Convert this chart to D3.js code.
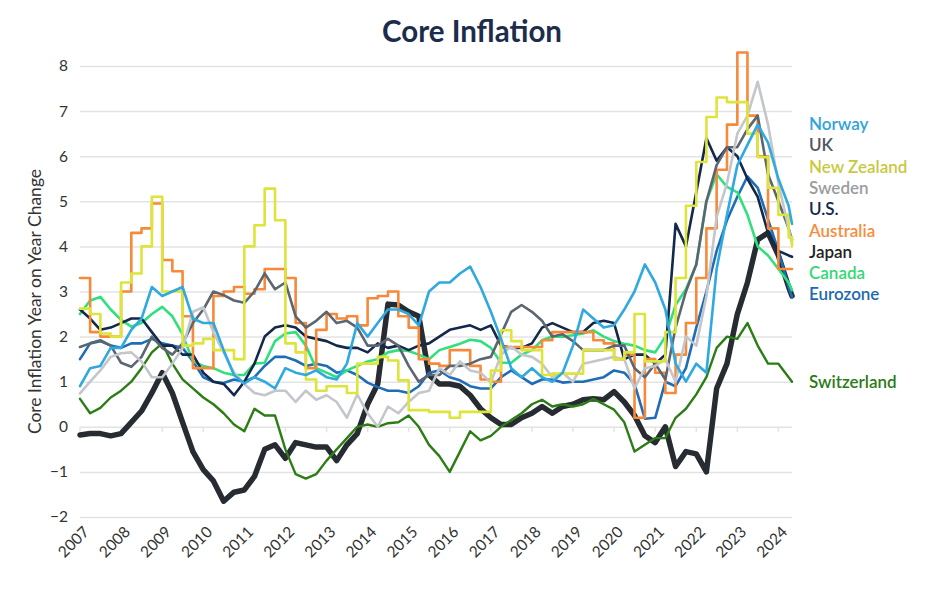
<!DOCTYPE html>
<html>
<head>
<meta charset="utf-8">
<script src="https://cdn.jsdelivr.net/npm/d3@7"></script>
<style>
  body { margin: 0; background: #fff; }
  text { font-family: Lato, "Open Sans", sans-serif; }
</style>
</head>
<body>
<svg id="chart" width="940" height="600"></svg>
<script>
// quarterly readings, Jan 2007 .. Apr 2024, plus last reading (May 2024)
const yearTicks = d3.range(2007, 2025);
const yTicks = [-2, -1, 0, 1, 2, 3, 4, 5, 6, 7, 8];

const norway = [0.9, 1.3, 1.35, 1.75, 1.75, 2.15, 2.4, 3.1, 2.9, 3.0, 3.1, 2.4, 2.3, 2.3, 1.7, 1.15, 0.96, 1.1,
  1.0, 0.85, 1.3, 1.2, 1.15, 1.25, 1.1, 1.05, 1.4, 2.3, 2.0, 2.3, 2.6, 2.6, 2.5, 2.25, 3.0,
  3.2, 3.2, 3.4, 3.55, 3.1, 2.55, 1.95, 1.3, 1.1, 1.3, 1.1, 1.0, 1.2, 1.8, 2.6, 2.4, 2.2, 2.25, 2.6,
  3.0, 3.6, 3.2, 2.6, 1.4, 1.0, 1.4, 1.2, 3.5, 4.7, 5.8, 6.25, 6.7, 6.3, 5.5, 4.9, 4.5];
const uk = [1.77, 1.85, 1.92, 1.8, 1.42, 1.33, 1.55, 2.0, 1.75, 1.6, 1.85, 2.3, 2.6, 3.0, 2.92, 2.8, 2.75, 3.0,
  3.4, 3.05, 3.2, 2.45, 2.2, 2.35, 2.55, 2.3, 2.35, 2.2, 1.8, 1.8, 1.95, 1.8, 1.35, 1.0, 1.15,
  1.15, 1.35, 1.35, 1.4, 1.5, 1.55, 2.05, 2.55, 2.7, 2.55, 2.35, 2.0, 2.05, 1.9, 1.7, 1.7, 1.7, 1.8, 1.8,
  1.3, 1.1, 1.4, 1.05, 2.2, 3.0, 3.6, 5.0, 5.8, 6.2, 6.2, 6.6, 6.9, 5.6, 5.0, 4.4, 4.15];
const newZealand = [2.62, 2.5, 2.07, 2.0, 3.2, 3.4, 4.0, 5.1, 3.0, 3.0, 1.8, 1.85, 1.95, 1.7, 1.7, 1.5, 4.0, 4.47,
  5.28, 4.58, 1.85, 1.65, 1.05, 0.8, 0.9, 0.9, 0.75, 1.4, 1.4, 1.55, 1.47, 1.03, 0.37, 0.37, 0.33,
  0.33, 0.2, 0.33, 0.33, 0.33, 1.25, 2.14, 1.9, 1.7, 1.7, 1.15, 1.18, 1.18, 1.18, 1.7, 1.7, 1.7, 1.5, 1.65,
  2.5, 1.45, 1.45, 2.1, 3.3, 4.9, 5.87, 6.87, 7.3, 7.2, 7.2, 6.5, 5.98, 5.3, 4.7, 4.2, 4.0];
const sweden = [0.74, 1.0, 1.25, 1.55, 1.63, 1.65, 1.45, 1.1, 1.1, 1.4, 1.75, 2.55, 2.65, 2.1, 1.65, 1.2, 0.95, 0.75,
  0.7, 0.8, 0.8, 0.55, 0.8, 0.6, 0.7, 0.55, 0.2, 0.72, 0.3, 0.0, 0.45, 0.3, 0.55, 0.75, 0.8,
  1.3, 1.15, 1.45, 1.25, 1.2, 0.98, 1.6, 1.78, 1.6, 1.55, 1.4, 1.1, 1.2, 1.0, 1.4, 1.45, 1.5, 1.55, 1.5,
  0.85, 1.3, 1.35, 1.5, 1.0, 2.0, 1.8, 2.9, 4.65, 5.4, 6.5, 6.9, 7.65, 6.7, 5.4, 4.4, 4.06];
const us = [2.6, 2.4, 2.15, 2.2, 2.3, 2.4, 2.4, 2.1, 1.8, 1.8, 1.6, 1.6, 1.2, 1.0, 0.95, 0.7,
  1.0, 1.4, 2.0, 2.2, 2.25, 2.2, 2.0, 1.95, 1.9, 1.8, 1.75, 1.75, 1.65, 1.85, 1.75, 1.8,
  1.7, 1.8, 1.85, 2.0, 2.15, 2.2, 2.25, 2.15, 2.25, 1.8, 1.75, 1.75, 1.85, 2.2, 2.3, 2.2,
  2.1, 2.1, 2.3, 2.35, 2.3, 1.5, 1.6, 1.6, 1.4, 1.6, 4.5, 4.0, 5.2, 6.4, 5.9, 6.2,
  6.0, 5.5, 5.1, 4.3, 3.9, 3.8, 3.77];
const australia = [3.3, 2.1, 2.0, 2.0, 3.0, 4.3, 4.4, 4.95, 3.7, 3.45, 2.45, 1.3, 1.3, 2.9, 3.0, 3.1, 2.95, 3.05,
  3.5, 3.5, 3.3, 2.3, 1.3, 2.15, 2.5, 2.4, 2.45, 2.25, 2.85, 2.9, 3.0, 2.45, 2.2, 1.5, 1.4,
  1.35, 1.7, 1.7, 1.35, 1.05, 1.0, 1.77, 1.77, 1.77, 1.77, 1.92, 2.1, 2.1, 2.1, 2.1, 1.92, 1.85, 1.5, 1.6,
  0.2, 1.5, 1.2, 0.75, 1.6, 2.3, 3.3, 4.4, 5.7, 6.7, 8.3, 6.9, 6.0, 4.4, 3.5, 3.5, 3.5];
const japan = [-0.18, -0.15, -0.15, -0.2, -0.15, 0.1, 0.35, 0.75, 1.2, 0.75, 0.1, -0.55, -0.95, -1.2, -1.65, -1.45, -1.4, -1.1,
  -0.5, -0.4, -0.7, -0.35, -0.4, -0.45, -0.45, -0.75, -0.4, -0.15, 0.5, 0.95, 2.72, 2.7, 2.55, 2.45, 1.15,
  0.95, 0.95, 0.9, 0.7, 0.4, 0.2, 0.05, 0.05, 0.2, 0.3, 0.45, 0.3, 0.45, 0.5, 0.6, 0.62, 0.6, 0.78, 0.55,
  0.25, -0.2, -0.35, 0, -0.88, -0.55, -0.6, -1.0, 0.85, 1.4, 2.5, 3.2, 4.15, 4.3, 3.8, 3.1, 2.9];
const canada = [2.5, 2.8, 2.88, 2.6, 2.37, 2.22, 2.3, 2.5, 2.66, 2.45, 2.05, 1.45, 1.35, 1.3, 1.2, 1.15, 1.15, 1.4,
  1.42, 1.9, 2.07, 2.1, 1.8, 1.3, 1.2, 1.1, 1.25, 1.35, 1.45, 1.5, 1.65, 1.7, 1.68, 1.6, 1.5,
  1.7, 1.77, 1.84, 1.93, 1.9, 1.75, 1.42, 1.42, 1.6, 1.7, 1.92, 2.0, 2.0, 2.03, 2.07, 2.14, 2.0, 1.9, 1.84,
  1.8, 1.7, 1.65, 2.0, 2.7, 3.05, 3.6, 5.0, 5.6, 5.32, 5.2, 4.7, 4.0, 3.8, 3.5, 3.2, 3.03];
const eurozone = [1.5, 1.85, 1.9, 1.8, 1.75, 1.85, 1.85, 1.95, 1.85, 1.8, 1.75, 1.45, 1.1, 1.0, 0.97, 1.05, 1.0, 1.1,
  1.35, 1.55, 1.55, 1.47, 1.35, 1.4, 1.35, 1.2, 1.25, 1.15, 0.98, 0.88, 0.8, 0.8, 0.75, 0.9, 1.2,
  1.25, 1.1, 1.03, 0.9, 0.85, 0.85, 1.1, 1.25, 1.1, 0.95, 1.05, 1.05, 0.98, 1.0, 1.0, 1.05, 1.1, 1.25, 1.2,
  0.95, 0.18, 0.2, 1.0, 0.9, 1.3, 2.2, 3.0, 3.9, 4.58, 5.1, 5.55, 5.3, 4.6, 3.9, 3.1, 2.88];
const switzerland = [0.62, 0.3, 0.42, 0.65, 0.8, 1.0, 1.3, 1.65, 1.85, 1.4, 1.05, 0.85, 0.65, 0.5, 0.3, 0.05, -0.1, 0.4,
  0.25, 0.25, -0.5, -1.05, -1.15, -1.05, -0.75, -0.5, -0.25, 0, 0.05, 0, 0.08, 0.1, 0.25, 0.0, -0.4,
  -0.65, -1.0, -0.55, -0.1, -0.3, -0.2, 0, 0.15, 0.3, 0.5, 0.6, 0.45, 0.5, 0.45, 0.5, 0.62, 0.5, 0.38, 0.1,
  -0.55, -0.4, -0.25, -0.25, 0.2, 0.4, 0.72, 1.1, 1.75, 2.0, 1.95, 2.3, 1.8, 1.4, 1.4, 1.1, 1.0];

// dates for each reading: quarter starts, then the final month
const dates = d3.range(70).map(i => new Date(2007, i * 3, 1)).concat([new Date(2024, 4, 1)]);

// legend order (top to bottom), drawing order is separate
const series = [
  { name: "Norway", values: norway, color: "#30a8e0", text: "#2ea3dc", width: 2.6 },
  { name: "UK", values: uk, color: "#5c6670", text: "#4f5660", width: 2.6 },
  { name: "New Zealand", values: newZealand, color: "#dde43a", text: "#c8c93f", width: 2.6, step: true },
  { name: "Sweden", values: sweden, color: "#c3c6ca", text: "#9b9c9e", width: 2.6 },
  { name: "U.S.", values: us, color: "#13284a", text: "#14284b", width: 2.6 },
  { name: "Australia", values: australia, color: "#f7893b", text: "#f98b3c", width: 2.6, step: true },
  { name: "Japan", values: japan, color: "#272c33", text: "#222222", width: 5.5 },
  { name: "Canada", values: canada, color: "#2fe07c", text: "#34d876", width: 2.6 },
  { name: "Eurozone", values: eurozone, color: "#1e6db6", text: "#1d6ab0", width: 2.6 },
  { name: "Switzerland", values: switzerland, color: "#2b7d14", text: "#2b7a16", width: 2.4 }
];
const drawOrder = ["Japan", "Switzerland", "Eurozone", "Canada", "U.S.", "Australia", "UK", "Sweden", "New Zealand", "Norway"];

const svg = d3.select("#chart");
const margin = { left: 80, right: 148, top: 66, bottom: 83 };
const width = 940, height = 600;

const x = d3.scaleTime()
  .domain([new Date(2007, 0, 1), new Date(2024, 4, 1)])
  .range([margin.left, width - margin.right]);
const y = d3.scaleLinear()
  .domain([-2, 8])
  .range([height - margin.bottom, margin.top]);

// title
svg.append("text")
  .attr("x", 472)
  .attr("y", 42)
  .attr("text-anchor", "middle")
  .attr("font-size", 29.5)
  .attr("font-weight", 700)
  .attr("fill", "#1b2d4b")
  .text("Core Inflation");

// y axis label
svg.append("text")
  .attr("transform", `translate(41,${(y(8) + y(-2)) / 2 + 10}) rotate(-90)`)
  .attr("text-anchor", "middle")
  .attr("font-size", 17.5)
  .attr("fill", "#333")
  .text("Core Inflation Year on Year Change");

// grid + y labels
const yAxis = svg.append("g")
  .attr("transform", `translate(${margin.left},0)`)
  .call(d3.axisLeft(y)
    .tickValues(yTicks)
    .tickSize(-(width - margin.right - margin.left))
    .tickPadding(12)
    .tickFormat(d3.format("d")));
yAxis.select(".domain").remove();
yAxis.selectAll(".tick line").attr("stroke", "#e3e3e3").attr("stroke-width", 1.5);
yAxis.selectAll(".tick text")
  .attr("font-size", 15.5)
  .attr("fill", "#333")
  .attr("font-family", "Lato, sans-serif");

// small year ticks sitting on the zero line
svg.append("g")
  .selectAll("line")
  .data(yearTicks)
  .join("line")
  .attr("x1", d => x(new Date(d, 0, 1)))
  .attr("x2", d => x(new Date(d, 0, 1)))
  .attr("y1", y(0))
  .attr("y2", y(0) + 5)
  .attr("stroke", "#e3e3e3")
  .attr("stroke-width", 1.5);

// year labels, rotated
svg.append("g")
  .selectAll("text")
  .data(yearTicks)
  .join("text")
  .attr("transform", d => `translate(${x(new Date(d, 0, 1)) + 10},${y(-2) + 16}) rotate(-45)`)
  .attr("text-anchor", "end")
  .attr("font-size", 15.5)
  .attr("fill", "#333")
  .text(d => d);

// lines
const byName = new Map(series.map(s => [s.name, s]));
const plot = svg.append("g");
drawOrder.forEach(name => {
  const s = byName.get(name);
  const line = d3.line()
    .x((d, i) => x(dates[i]))
    .y(d => y(d))
    .curve(s.step ? d3.curveStepAfter : d3.curveLinear);
  plot.append("path")
    .datum(s.values)
    .attr("fill", "none")
    .attr("stroke", s.color)
    .attr("stroke-width", s.width)
    .attr("stroke-linejoin", "round")
    .attr("stroke-linecap", "round")
    .attr("d", line);
});

// legend
const legendX = 809;
const legendTop = 130;
const legendStep = 21.3;
const legend = svg.append("g");
series.forEach((s, i) => {
  const last = s.values[s.values.length - 1];
  const ly = s.name === "Switzerland" ? y(last) + 6 : legendTop + i * legendStep;
  legend.append("text")
    .attr("x", legendX)
    .attr("y", ly)
    .attr("font-size", 17)
    .attr("font-weight", 600)
    .attr("fill", s.text)
    .text(s.name);
});
</script>
</body>
</html>
